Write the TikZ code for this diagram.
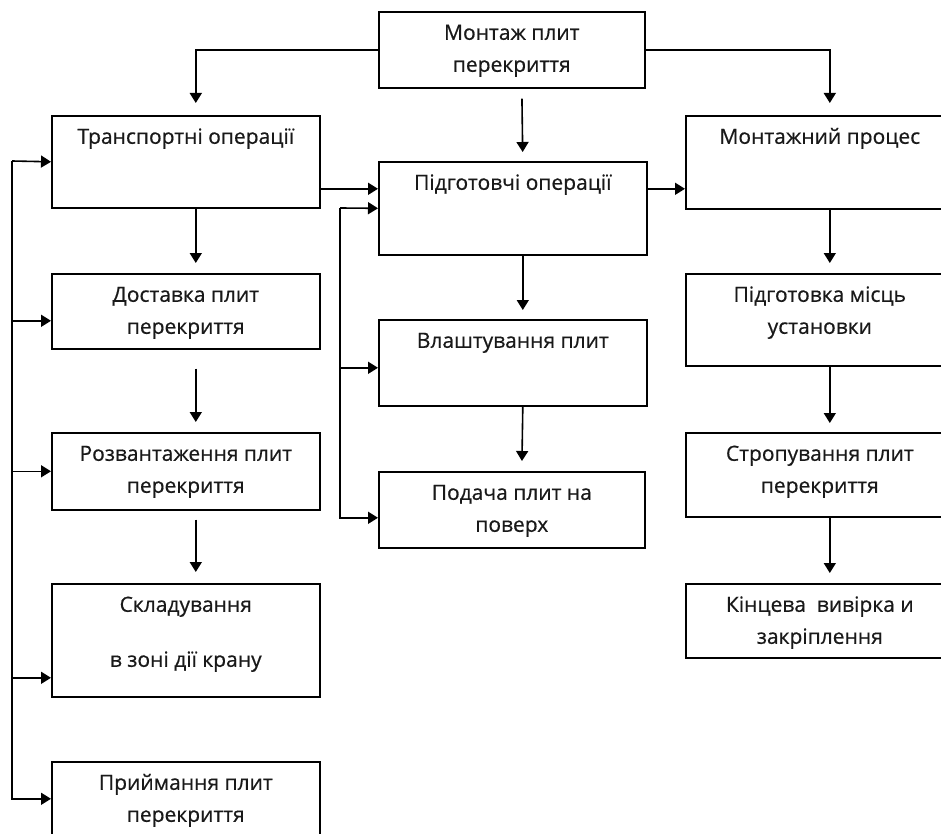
\documentclass[tikz,border=0pt]{standalone}
\usepackage{fontspec}
\setmainfont{Open Sans}
\newfontfamily\boxfont[FakeBold=0.6]{Open Sans}
\usetikzlibrary{arrows.meta}
\newcommand{\cell}[3]{\parbox[c][#2pt][t]{#1pt}{\centering\rule{0pt}{28pt}#3}}

\begin{document}
\begin{tikzpicture}[
    x = 1pt, y = -1pt,
    blk/.style = {draw, line width=1.6pt, inner sep=0pt, anchor=north west,
                  font=\boxfont\fontsize{21}{32}\selectfont, text=black!90},
    arr/.style = {line width=1.6pt, -{Triangle[length=10pt, width=12pt]}}
]
\useasboundingbox (0,0) rectangle (941,834);
\clip (0,0) rectangle (941,834);

\node[blk] (M) at (378,11) {\cell{266}{76}{Монтаж плит\\перекриття}};

\node[blk] (T1) at (51,115) {\cell{268}{92}{Транспортні операції}};
\node[blk] (D2) at (51,273) {\cell{268}{75}{Доставка плит\\перекриття}};
\node[blk] (R3) at (51,432) {\cell{268}{77}{Розвантаження плит\\перекриття}};
\node[blk] (S4) at (51,583) {\cell{268}{113}{Складування\\[23pt]в зоні дії крану}};
\node[blk] (P5) at (51,761) {\cell{268}{80}{Приймання плит\\перекриття}};

\node[blk] (P1) at (378,161) {\cell{268}{93}{Підготовчі операції}};
\node[blk] (V2) at (378,319) {\cell{268}{86}{Влаштування плит}};
\node[blk] (F3) at (378,471) {\cell{266}{76}{Подача плит на\\поверх}};

\node[blk] (MP1) at (685,115) {\cell{268}{93}{Монтажний процес}};
\node[blk] (PM2) at (685,273) {\cell{268}{92}{Підготовка місць\\установки}};
\node[blk] (ST3) at (685,432) {\cell{268}{84}{Стропування плит\\перекриття}};
\node[blk] (K4) at (685,583) {\cell{268}{74}{Кінцева~~вивірка и\\закріплення}};

\draw[arr, shorten >=12pt] (M.west) -| ([xshift=10pt]T1.north);
\draw[arr, shorten >=12pt] (M.east) -| ([xshift=10pt]MP1.north);
\draw[arr, shorten <=10pt, shorten >=9pt] ([xshift=10pt]M.south) -- ([xshift=10pt]P1.north);

\draw[arr, shorten >=10pt] ([xshift=10pt]T1.south) -- ([xshift=10pt]D2.north);
\draw[arr, shorten <=19pt, shorten >=10pt] ([xshift=10pt]D2.south) -- ([xshift=10pt]R3.north);
\draw[arr, shorten <=9pt, shorten >=11pt] ([xshift=10pt]R3.south) -- ([xshift=10pt]S4.north);

\draw[arr, shorten >=9pt] ([xshift=10pt]P1.south) -- ([xshift=10pt]V2.north);
\draw[arr, shorten >=10pt] ([xshift=10pt]V2.south) -- ([xshift=10pt]F3.north);

\draw[arr, shorten >=10pt] ([xshift=10pt]MP1.south) -- ([xshift=10pt]PM2.north);
\draw[arr, shorten >=9pt] ([xshift=10pt]PM2.south) -- ([xshift=10pt]ST3.north);
\draw[arr, shorten >=10pt] ([xshift=10pt]ST3.south) -- ([xshift=10pt]K4.north);

\draw[arr] ([yshift=-27pt]T1.east) -- ([yshift=19.5pt]P1.west);
\draw[arr] ([yshift=19.5pt]P1.east) -- ([yshift=-26.5pt]MP1.west);

\coordinate (busM) at (340,208);
\draw[arr] (busM) -- (P1.west);
\draw[arr] (busM) |- ([yshift=-5pt]V2.west);
\draw[arr] (busM) |- ([yshift=-8pt]F3.west);

\coordinate (busL) at (12,161);
\draw[arr] (busL) -- (T1.west);
\draw[arr] (busL) |- ([yshift=-9.5pt]D2.west);
\draw[arr] (busL) |- (R3.west);
\draw[arr] (busL) |- ([yshift=-37.5pt]S4.west);
\draw[arr] (busL) |- ([yshift=3pt]P5.west);

\end{tikzpicture}
\end{document}
